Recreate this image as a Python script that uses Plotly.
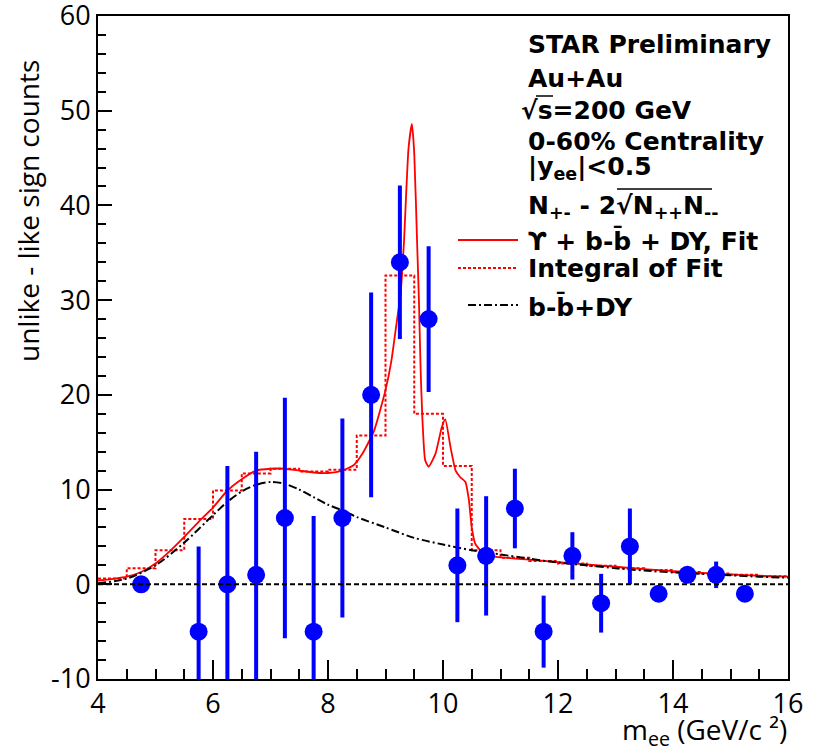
import plotly.graph_objects as go

# ---------------- data ----------------
mass = [4.75, 5.75, 6.25, 6.75, 7.25, 7.75, 8.25, 8.75, 9.25, 9.75, 10.25,
        10.75, 11.25, 11.75, 12.25, 12.75, 13.25, 13.75, 14.25, 14.75, 15.25]
counts = [0, -5, 0, 1, 7, -5, 7, 20, 34, 28, 2,
          3, 8, -5, 3, -2, 4, -1, 1, 1, -1]
errors = [0, 9, 12.5, 13, 12.7, 12.2, 10.5, 10.8, 8.1, 7.7, 6,
          6.3, 4.2, 3.8, 2.5, 3.1, 4, 0.8, 0.8, 1.4, 0.8]

fit_x = [4.0, 4.3, 4.5, 4.75, 5.0, 5.25, 5.5, 5.75, 6.0, 6.25, 6.5, 6.75, 7.0,
         7.25, 7.5, 7.75, 8.0, 8.25, 8.45, 8.6, 8.8, 9.0, 9.1, 9.2, 9.26, 9.32,
         9.4, 9.46, 9.5, 9.55, 9.58, 9.61, 9.64, 9.69, 9.75, 9.87, 9.98, 10.04,
         10.13, 10.22, 10.3, 10.39, 10.45, 10.5, 10.56, 10.68, 10.88, 11.0,
         11.5, 12.0, 12.5, 13.0, 13.5, 14.0, 14.5, 15.0, 15.5, 16.0]
fit_y = [0.4, 0.6, 0.8, 1.3, 2.2, 3.5, 5.0, 6.6, 8.1, 9.9, 11.1, 12.0, 12.2,
         12.2, 12.0, 11.8, 11.75, 12.0, 12.6, 13.8, 16.2, 20.5, 23.5, 27.9, 30.5, 36.0,
         46.0, 48.6, 45.5, 36.0, 30.3, 22.9, 17.7, 13.1, 12.4, 13.8, 16.6, 17.4,
         14.5, 12.0, 11.3, 10.8, 8.9, 6.0, 4.3, 3.4, 2.95, 2.85,
         2.6, 2.35, 2.1, 1.85, 1.6, 1.4, 1.2, 1.05, 0.9, 0.8]

bg_x = [4.0, 4.5, 5.0, 5.5, 6.0, 6.25, 6.5, 6.75, 7.0, 7.25, 7.5, 7.75, 8.0,
        8.25, 8.5, 9.0, 9.5, 10.0, 10.5, 11.0, 11.5, 12.0, 12.5, 13.0, 13.5,
        14.0, 14.5, 15.0, 15.5, 16.0]
bg_y = [0.1, 0.6, 2.0, 4.4, 7.3, 8.7, 9.8, 10.5, 10.8, 10.6, 10.0, 9.2, 8.4,
        7.8, 7.1, 6.0, 4.9, 4.2, 3.6, 3.15, 2.7, 2.3, 2.0, 1.7, 1.45,
        1.25, 1.1, 0.95, 0.8, 0.7]

bin_edges = [4.0, 4.5, 5.0, 5.5, 6.0, 6.5, 7.0, 7.5, 8.0, 8.5, 9.0, 9.5, 10.0,
             10.5, 11.0, 11.5, 12.0, 12.5, 13.0, 13.5, 14.0, 14.5, 15.0, 15.5, 16.0]
integral = [0.6, 1.7, 3.6, 6.9, 9.9, 11.7, 12.2, 11.9, 12.1, 15.7, 32.6, 18.0,
            12.5, 3.6, 2.8, 2.45, 2.2, 1.95, 1.7, 1.5, 1.3, 1.15, 1.0, 0.85]

x_ticks = [4, 6, 8, 10, 12, 14, 16]
y_ticks = [-10, 0, 10, 20, 30, 40, 50, 60]

# ---------------- layout geometry (pixels) ----------------
W, H = 814, 750
L, R, T, B = 98, 788, 16, 679


def px(xp):
    return (xp - L) / (R - L)


def py(yp):
    return (B - yp) / (B - T)


fig = go.Figure()

fig.add_trace(go.Scatter(
    x=bin_edges, y=integral + [integral[-1]], mode="lines", line_shape="hv",
    line=dict(color="#ff0000", width=2, dash="3px,2px"), showlegend=False,
    hoverinfo="skip"))
fig.add_trace(go.Scatter(
    x=fit_x, y=fit_y, mode="lines", line_shape="spline",
    line=dict(color="#ff0000", width=1.8, smoothing=0.5), showlegend=False))
fig.add_trace(go.Scatter(
    x=bg_x, y=bg_y, mode="lines", line_shape="spline",
    line=dict(color="black", width=2, dash="8px,3px,2px,3px", smoothing=0.8),
    showlegend=False))

fig.add_hline(y=0, line=dict(color="black", width=2, dash="5px,3px"))

fig.add_trace(go.Scatter(
    x=mass, y=counts, mode="markers",
    marker=dict(color="#0000ff", size=18),
    error_y=dict(type="data", array=errors, color="#0000ff", thickness=4, width=0),
    showlegend=False))

tickfont = dict(family="Open Sans", size=27, color="black")
fig.update_xaxes(
    range=[4, 16], tickvals=x_ticks, ticktext=[str(v) for v in x_ticks],
    ticks="inside", ticklen=19, tickwidth=1.5, tickcolor="black",
    minor=dict(ticks="inside", ticklen=10, dtick=0.5, tickwidth=1.5, tickcolor="black"),
    showline=True, mirror=True, linecolor="black", linewidth=2,
    showgrid=False, zeroline=False, tickfont=tickfont, ticklabelstandoff=0,
    ticklabeloverflow="allow", automargin=False)
fig.update_yaxes(
    range=[-10, 60], tickvals=y_ticks, ticktext=[str(v) for v in y_ticks],
    ticks="inside", ticklen=14, tickwidth=1.5, tickcolor="black",
    minor=dict(ticks="inside", ticklen=8, dtick=2, tickwidth=1.5, tickcolor="black"),
    showline=True, mirror=True, linecolor="black", linewidth=2,
    showgrid=False, zeroline=False, tickfont=tickfont, ticklabelstandoff=0,
    ticklabeloverflow="allow", automargin=False)

anns = []
tf = dict(family="DejaVu Sans", size=25, color="black")


def text(s, xp, yp, font=tf, xanchor="left"):
    anns.append(dict(text=s, x=px(xp), y=py(yp), xref="paper", yref="paper",
                     xanchor=xanchor, yanchor="middle", showarrow=False, font=font))


text("<b>STAR Preliminary</b>", 526, 45)
text("<b>Au+Au</b>", 526, 78)
text("<b>√s=200 GeV</b>", 519, 110)
text("<b>0-60% Centrality</b>", 526, 141)
text("<b>|y<sub>ee</sub>|&lt;0.5</b>", 526, 168)
text("<b>N<sub>+-</sub> - 2√N<sub>++</sub>N<sub>--</sub></b>", 526, 207)
text("<b>ϒ + b-b̄ + DY, Fit</b>", 526, 240)
text("<b>Integral of Fit</b>", 526, 268)
text("<b>b-b̄+DY</b>", 526, 306)

# axis titles
anns.append(dict(text="unlike - like sign counts", x=px(28), y=py(211), xref="paper",
                 yref="paper", xanchor="center", yanchor="middle", textangle=-90,
                 showarrow=False,
                 font=dict(family="Open Sans", size=28, color="black")))
anns.append(dict(text="m<sub>ee</sub> (GeV/c ²)", x=px(789), y=py(731),
                 xref="paper", yref="paper", xanchor="right", yanchor="middle",
                 showarrow=False,
                 font=dict(family="Open Sans", size=28, color="black")))

shapes = [
    # legend marker
    dict(type="circle", xref="paper", yref="paper",
         x0=px(479), x1=px(497), y0=py(214), y1=py(196),
         fillcolor="#0000ff", line=dict(width=0)),
    # legend lines
    dict(type="line", xref="paper", yref="paper", x0=px(458), x1=px(518), y0=py(240), y1=py(240),
         line=dict(color="#ff0000", width=1.8)),
    dict(type="line", xref="paper", yref="paper", x0=px(458), x1=px(518), y0=py(268), y1=py(268),
         line=dict(color="#ff0000", width=2, dash="3px,2px")),
    dict(type="line", xref="paper", yref="paper", x0=px(468), x1=px(518), y0=py(305), y1=py(305),
         line=dict(color="black", width=2, dash="8px,3px,2px,3px")),
    # sqrt overlines
    dict(type="line", xref="paper", yref="paper", x0=px(536), x1=px(553), y0=py(96), y1=py(96),
         line=dict(color="black", width=1.5)),
    dict(type="line", xref="paper", yref="paper", x0=px(617), x1=px(712), y0=py(189), y1=py(189),
         line=dict(color="black", width=1.5)),
]

fig.update_layout(
    width=W, height=H,
    margin=dict(l=L, r=W - R, t=T, b=H - B, autoexpand=False),
    paper_bgcolor="white", plot_bgcolor="white",
    annotations=anns, shapes=shapes, showlegend=False,
)

fig.write_html("out.html")
